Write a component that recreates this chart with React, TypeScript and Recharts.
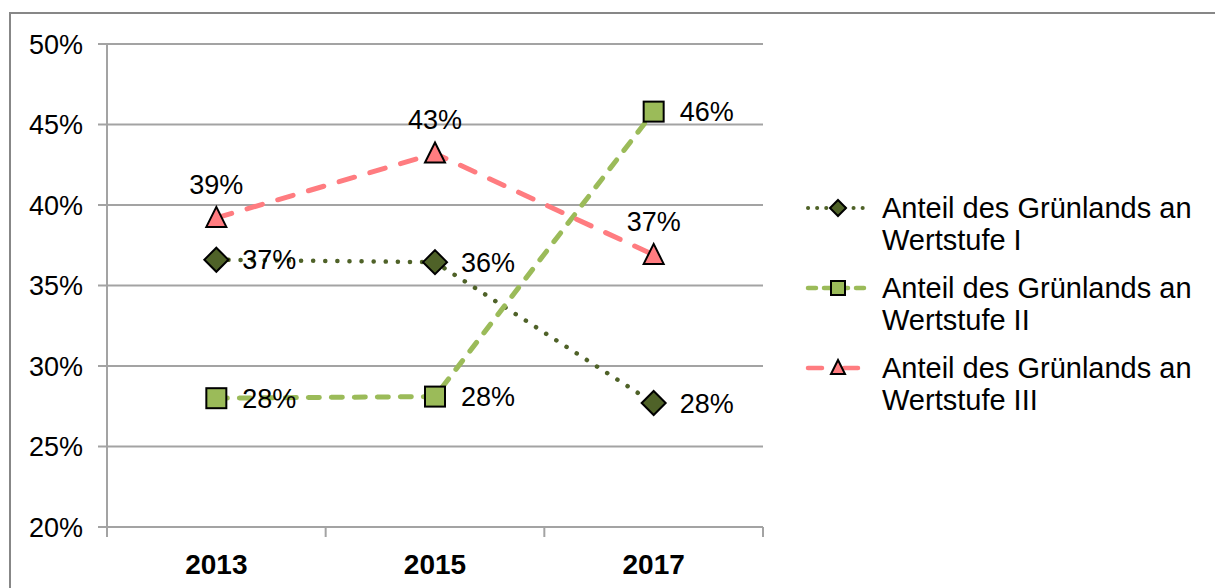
import React from 'react';
import { LineChart, Line, XAxis, YAxis, CartesianGrid, LabelList } from 'recharts';

const years = ['2013', '2015', '2017'];
const stufeI = [36.6, 36.45, 27.7];
const stufeII = [28.0, 28.1, 45.8];
const stufeIII = [39.2, 43.2, 36.9];
const seriesNames = [
    ['Anteil des Grünlands an', 'Wertstufe I'],
    ['Anteil des Grünlands an', 'Wertstufe II'],
    ['Anteil des Grünlands an', 'Wertstufe III'],
];
const yTicks = [20, 25, 30, 35, 40, 45, 50];

const data = years.map((y, i) => ({ year: y, s1: stufeI[i], s2: stufeII[i], s3: stufeIII[i] }));

const FONT = '"Liberation Sans", Arial, sans-serif';
const GRID = '#a3a3a3';
const PLOT_W = 656;

const Diamond = ({ cx, cy, r = 12 }: any) => (
    <polygon
        points={`${cx},${cy - r} ${cx + r},${cy} ${cx},${cy + r} ${cx - r},${cy}`}
        fill="#4F6228"
        stroke="#000"
        strokeWidth={2}
    />
);
const Square = ({ cx, cy, r = 10 }: any) => (
    <rect x={cx - r} y={cy - r} width={r * 2} height={r * 2} fill="#9BBB59" stroke="#000" strokeWidth={2} />
);
const Triangle = ({ cx, cy, r = 10 }: any) => (
    <polygon
        points={`${cx},${cy - r - 1} ${cx + r},${cy + r - 1} ${cx - r},${cy + r - 1}`}
        fill="#FF7C80"
        stroke="#000"
        strokeWidth={2}
    />
);

const series = [
    { key: 's1', color: '#4F6228', dash: '0.1 12', width: 4.5, Marker: Diamond, pos: 'right' },
    { key: 's2', color: '#9BBB59', dash: '11 12', width: 5, Marker: Square, pos: 'right' },
    { key: 's3', color: '#FF7C80', dash: '16 16', width: 5, Marker: Triangle, pos: 'top' },
];

const XTick = (props: any) => {
    const { x, y, payload, index } = props;
    const band = PLOT_W / years.length;
    return (
        <g>
            <line x1={x - band / 2} x2={x - band / 2} y1={y} y2={y + 10} stroke={GRID} strokeWidth={2} />
            {index === years.length - 1 && (
                <line x1={x + band / 2} x2={x + band / 2} y1={y} y2={y + 10} stroke={GRID} strokeWidth={2} />
            )}
            <text x={x} y={y + 47} textAnchor="middle" fontFamily={FONT} fontSize={28} fontWeight="bold" fill="#000">
                {payload.value}
            </text>
        </g>
    );
};

const LegendBox = () => (
    <div style={{ position: 'absolute', left: 805, top: 192, fontFamily: FONT, fontSize: 29, lineHeight: '32px', color: '#000' }}>
        {series.map((s, i) => {
            const M = s.Marker;
            return (
                <div key={s.key} style={{ display: 'flex', marginBottom: 16 }}>
                    <svg width={66} height={32} style={{ display: 'block' }}>
                        <line x1={3} x2={63} y1={16} y2={16} stroke={s.color} strokeWidth={s.width - 0.5}
                            strokeDasharray={s.key === 's1' ? '0.1 9' : s.key === 's2' ? '8 8' : '14 22'} strokeLinecap="round" />
                        <M cx={33} cy={16} r={s.key === 's1' ? 8 : 7} />
                    </svg>
                    <div style={{ marginLeft: 11 }}>
                        {seriesNames[i].map((t) => (
                            <div key={t}>{t}</div>
                        ))}
                    </div>
                </div>
            );
        })}
    </div>
);

const App = () => {
    return (
        <div style={{ position: 'absolute', left: 0, top: 0, width: 1215, height: 588, overflow: 'hidden', background: '#fff' }}>
            <div style={{ position: 'absolute', left: 9, top: 12, width: 1400, height: 800, borderLeft: '2px solid #878787', borderTop: '2px solid #878787' }} />
            <div style={{ position: 'absolute', left: 0, top: 0 }}>
                <LineChart width={1215} height={588} data={data} margin={{ top: 44, right: 452, bottom: 21, left: 27 }}>
                    <CartesianGrid vertical={false} stroke={GRID} strokeWidth={2} />
                    <XAxis
                        dataKey="year"
                        scale="band"
                        height={40}
                        axisLine={{ stroke: GRID, strokeWidth: 2 }}
                        tickLine={false}
                        tickSize={0}
                        tickMargin={0}
                        tick={<XTick />}
                        interval={0}
                    />
                    <YAxis
                        width={80}
                        domain={[20, 50]}
                        ticks={yTicks}
                        interval={0}
                        axisLine={{ stroke: GRID, strokeWidth: 2 }}
                        tickLine={{ stroke: GRID, strokeWidth: 2 }}
                        tickSize={9}
                        tickMargin={15}
                        tickFormatter={(v: number) => `${v}%`}
                        tick={{ fill: '#000', fontSize: 27, fontFamily: FONT }}
                    />
                    {series.map((s) => (
                        <Line
                            key={s.key}
                            dataKey={s.key}
                            stroke={s.color}
                            strokeWidth={s.width}
                            strokeDasharray={s.dash}
                            strokeLinecap="round"
                            isAnimationActive={false}
                            dot={(p: any) => <s.Marker key={`${s.key}-${p.index}`} cx={p.cx} cy={p.cy} />}
                            activeDot={false}
                        >
                            <LabelList
                                dataKey={s.key}
                                position={s.pos as any}
                                offset={s.pos === 'top' ? 24 : 26}
                                formatter={(v: any) => `${Math.round(Number(v))}%`}
                                fill="#000"
                                fontSize={27}
                                fontFamily={FONT}
                            />
                        </Line>
                    ))}
                </LineChart>
            </div>
            <LegendBox />
        </div>
    );
};

export default App;
